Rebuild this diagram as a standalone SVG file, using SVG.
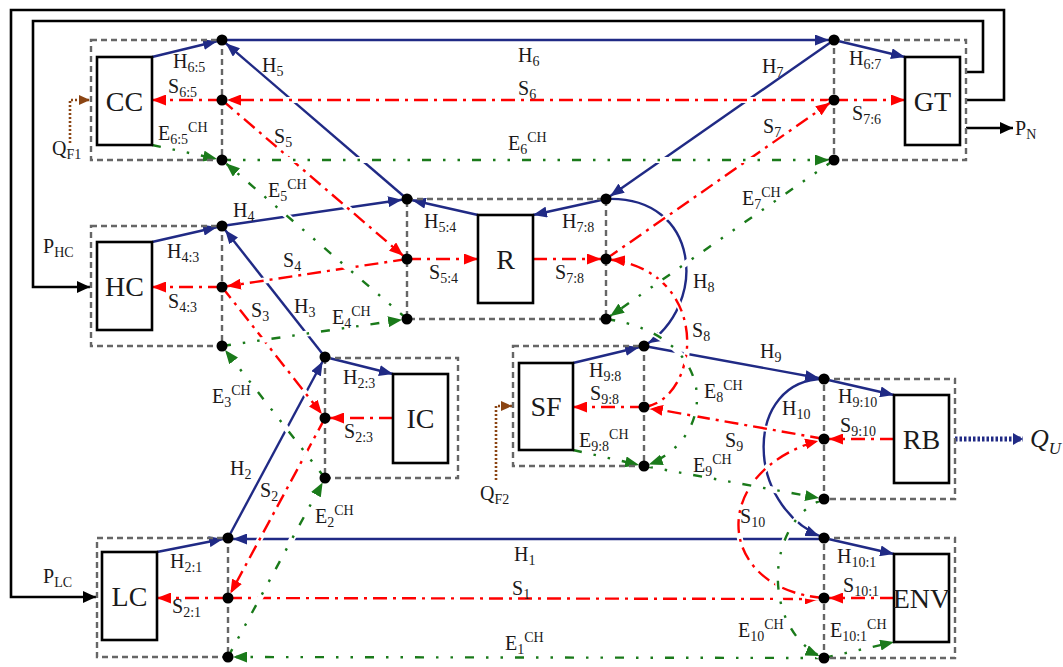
<svg xmlns="http://www.w3.org/2000/svg" width="1063" height="667" viewBox="0 0 1063 667">
<style>
.lbl{font-family:"Liberation Serif","Times New Roman",serif;font-size:20px;fill:#1a1a1a}
.sub{font-size:14px}
.big{font-family:"Liberation Serif","Times New Roman",serif;font-size:28px;fill:#1a1a1a;text-anchor:middle}
.box{fill:#fff;stroke:#000;stroke-width:2.6}
.zone{fill:none;stroke:#666;stroke-width:2.4;stroke-dasharray:6 4}
.dot{fill:#000}
.h{fill:none;stroke:#202a85;stroke-width:2.4}
.s{fill:none;stroke:#f00;stroke-width:2.4;stroke-dasharray:14 6 3 6}
.e{fill:none;stroke:#1a7a1a;stroke-width:2.4;stroke-dasharray:9 12 2.5 12 2.5 12}
.halo{fill:none;stroke:#fff;stroke-width:6}
.k{fill:none;stroke:#000;stroke-width:2.6}
.br{fill:none;stroke:#8b4513;stroke-width:2.6;stroke-dasharray:2 2}
.qu{fill:none;stroke:#202a85;stroke-width:5;stroke-dasharray:2.5 2}
</style>
<defs>
<marker id="hD" viewBox="0 0 14 11" refX="19" refY="5.5" markerWidth="14" markerHeight="11" orient="auto" markerUnits="userSpaceOnUse"><path d="M0,0 L14,5.5 L0,11 z" fill="#202a85"/></marker>
<marker id="hB" viewBox="0 0 14 11" refX="14" refY="5.5" markerWidth="14" markerHeight="11" orient="auto" markerUnits="userSpaceOnUse"><path d="M0,0 L14,5.5 L0,11 z" fill="#202a85"/></marker>
<marker id="sD" viewBox="0 0 14 11" refX="19" refY="5.5" markerWidth="14" markerHeight="11" orient="auto" markerUnits="userSpaceOnUse"><path d="M0,0 L14,5.5 L0,11 z" fill="#f00"/></marker>
<marker id="sB" viewBox="0 0 14 11" refX="14" refY="5.5" markerWidth="14" markerHeight="11" orient="auto" markerUnits="userSpaceOnUse"><path d="M0,0 L14,5.5 L0,11 z" fill="#f00"/></marker>
<marker id="eD" viewBox="0 0 14 11" refX="19" refY="5.5" markerWidth="14" markerHeight="11" orient="auto" markerUnits="userSpaceOnUse"><path d="M0,0 L14,5.5 L0,11 z" fill="#1a7a1a"/></marker>
<marker id="eB" viewBox="0 0 14 11" refX="14" refY="5.5" markerWidth="14" markerHeight="11" orient="auto" markerUnits="userSpaceOnUse"><path d="M0,0 L14,5.5 L0,11 z" fill="#1a7a1a"/></marker>
<marker id="kA" viewBox="0 0 13 12" refX="13" refY="6" markerWidth="13" markerHeight="12" orient="auto" markerUnits="userSpaceOnUse"><path d="M0,0 L13,6 L0,12 z" fill="#000"/></marker>
<marker id="bA" viewBox="0 0 11 10" refX="11" refY="5" markerWidth="11" markerHeight="10" orient="auto" markerUnits="userSpaceOnUse"><path d="M0,0 L11,5 L0,10 z" fill="#8b4513"/></marker>
<marker id="qA" viewBox="0 0 10 12" refX="10" refY="6" markerWidth="10" markerHeight="12" orient="auto" markerUnits="userSpaceOnUse"><path d="M0,0 L10,6 L0,12 z" fill="#202a85"/></marker>
</defs>

<g id="connectors">
  <!-- power / feedback lines -->
  <path class="k" d="M966,100 H1004 V10 H11 V597 H96" marker-end="url(#kA)"/>
  <path class="k" d="M966,72 H983 V21 H33 V287 H90" marker-end="url(#kA)"/>
  <path class="k" d="M966,128 H1013" marker-end="url(#kA)"/>
  <path class="br" d="M70,143 V100 H90" marker-end="url(#bA)"/>
  <path class="br" d="M496,480 V406 H512" marker-end="url(#bA)"/>
  <path class="qu" d="M955,439 H1023" marker-end="url(#qA)"/>

  <!-- H lines -->
  <path class="h" d="M152,57 L222,40" marker-end="url(#hD)"/>
  <path class="h" d="M407,199 L222,40" marker-end="url(#hD)"/>
  <path class="h" d="M222,40 L834,40" marker-end="url(#hD)"/>
  <path class="h" d="M834,40 L905,57" marker-end="url(#hB)"/>
  <path class="h" d="M834,40 L606,199" marker-end="url(#hD)"/>
  <path class="h" d="M606,199 L533,215" marker-end="url(#hB)"/>
  <path class="h" d="M478,215 L407,199" marker-end="url(#hD)"/>
  <path class="h" d="M152,242 L222,226" marker-end="url(#hD)"/>
  <path class="h" d="M222,226 L407,199" marker-end="url(#hD)"/>
  <path class="h" d="M325,357 L222,226" marker-end="url(#hD)"/>
  <path class="h" d="M228,538 L325,357" marker-end="url(#hD)"/>
  <path class="h" d="M325,357 L393,374" marker-end="url(#hB)"/>
  <path class="h" d="M157,552 L228,538" marker-end="url(#hD)"/>
  <path class="h" d="M824,539 L228,539" marker-end="url(#hD)"/>
  <path class="h" d="M824,538 L894,554" marker-end="url(#hB)"/>
  <path class="h" d="M824,379 C745,379 742,505 824,538" marker-end="url(#hD)"/>
  <path class="h" d="M644,346 L824,379" marker-end="url(#hD)"/>
  <path class="h" d="M824,379 L894,395" marker-end="url(#hB)"/>
  <path class="h" d="M573,363 L644,346" marker-end="url(#hD)"/>
  <path class="h" d="M606,199 C700,195 710,305 644,346" marker-end="url(#hD)"/>

  <!-- S lines -->
  <path class="s" d="M222,100 L152,100" marker-end="url(#sB)"/>
  <path class="halo" d="M834,100 L222,100"/>
  <path class="s" d="M834,100 L222,100" marker-end="url(#sD)"/>
  <path class="s" d="M834,100 L905,100" marker-end="url(#sB)"/>
  <path class="halo" d="M606,259 L834,100"/>
  <path class="s" d="M606,259 L834,100" marker-end="url(#sD)"/>
  <path class="halo" d="M222,100 L407,259"/>
  <path class="s" d="M222,100 L407,259" marker-end="url(#sD)"/>
  <path class="s" d="M407,259 L478,259" marker-end="url(#sB)"/>
  <path class="s" d="M533,259 L606,259" marker-end="url(#sD)"/>
  <path class="halo" d="M407,259 L222,287"/>
  <path class="s" d="M407,259 L222,287" marker-end="url(#sD)"/>
  <path class="s" d="M222,287 L152,287" marker-end="url(#sB)"/>
  <path class="halo" d="M222,287 L325,418"/>
  <path class="s" d="M222,287 L325,418" marker-end="url(#sD)"/>
  <path class="s" d="M393,418 L325,418" marker-end="url(#sD)"/>
  <path class="halo" d="M325,418 L228,598"/>
  <path class="s" d="M325,418 L228,598" marker-end="url(#sD)"/>
  <path class="s" d="M228,598 L157,598" marker-end="url(#sB)"/>
  <path class="halo" d="M228,598 L824,599"/>
  <path class="s" d="M228,598 L824,599" marker-end="url(#sD)"/>
  <path class="s" d="M894,598 L824,598" marker-end="url(#sD)"/>
  <path class="halo" d="M824,598 C715,590 705,470 824,439"/>
  <path class="s" d="M824,598 C715,590 705,470 824,439" marker-end="url(#sD)"/>
  <path class="s" d="M894,439 L824,439" marker-end="url(#sD)"/>
  <path class="halo" d="M824,439 L644,407"/>
  <path class="s" d="M824,439 L644,407" marker-end="url(#sD)"/>
  <path class="s" d="M644,407 L573,407" marker-end="url(#sB)"/>
  <path class="halo" d="M644,407 C700,400 715,270 606,259"/>
  <path class="s" d="M644,407 C700,400 715,270 606,259" marker-end="url(#sD)"/>

  <!-- E lines -->
  <path class="e" d="M152,145 L222,160" marker-end="url(#eD)"/>
  <path class="halo" d="M222,160 L834,160"/>
  <path class="e" d="M222,160 L834,160" marker-end="url(#eD)"/>
  <path class="halo" d="M834,160 L606,319"/>
  <path class="e" d="M834,160 L606,319" marker-end="url(#eD)"/>
  <path class="halo" d="M407,319 L222,160"/>
  <path class="e" d="M407,319 L222,160" marker-end="url(#eD)"/>
  <path class="halo" d="M222,346 L407,319"/>
  <path class="e" d="M222,346 L407,319" marker-end="url(#eD)"/>
  <path class="halo" d="M325,478 L222,346"/>
  <path class="e" d="M325,478 L222,346" marker-end="url(#eD)"/>
  <path class="halo" d="M228,657 L325,478"/>
  <path class="e" d="M228,657 L325,478" marker-end="url(#eD)"/>
  <path class="halo" d="M824,658 L228,657"/>
  <path class="e" d="M824,658 L228,657" marker-end="url(#eD)"/>
  <path class="e" d="M824,658 L894,642" marker-end="url(#eB)"/>
  <path class="halo" d="M824,499 C765,520 760,630 824,658"/>
  <path class="e" d="M824,499 C765,520 760,630 824,658" marker-end="url(#eD)"/>
  <path class="halo" d="M644,466 L824,499"/>
  <path class="e" d="M644,466 L824,499" marker-end="url(#eD)"/>
  <path class="e" d="M573,450 L644,466" marker-end="url(#eD)"/>
  <path class="halo" d="M606,319 C720,335 720,440 644,466"/>
  <path class="e" d="M606,319 C720,335 720,440 644,466" marker-end="url(#eD)"/>

  <!-- connector labels -->
  <g class="lbl">
    <text x="173" y="68">H<tspan class="sub" dy="4">6:5</tspan></text>
    <text x="168" y="93">S<tspan class="sub" dy="4">6:5</tspan></text>
    <text x="158" y="140">E<tspan class="sub" dy="4">6:5</tspan><tspan class="sub" dy="-12">CH</tspan></text>
    <text x="262" y="72">H<tspan class="sub" dy="4">5</tspan></text>
    <text x="274" y="143">S<tspan class="sub" dy="4">5</tspan></text>
    <text x="268" y="197">E<tspan class="sub" dy="4">5</tspan><tspan class="sub" dy="-12">CH</tspan></text>
    <text x="518" y="62">H<tspan class="sub" dy="4">6</tspan></text>
    <text x="518" y="95">S<tspan class="sub" dy="4">6</tspan></text>
    <text x="508" y="150">E<tspan class="sub" dy="4">6</tspan><tspan class="sub" dy="-12">CH</tspan></text>
    <text x="762" y="73">H<tspan class="sub" dy="4">7</tspan></text>
    <text x="763" y="133">S<tspan class="sub" dy="4">7</tspan></text>
    <text x="742" y="205">E<tspan class="sub" dy="4">7</tspan><tspan class="sub" dy="-12">CH</tspan></text>
    <text x="849" y="65">H<tspan class="sub" dy="4">6:7</tspan></text>
    <text x="852" y="120">S<tspan class="sub" dy="4">7:6</tspan></text>
    <text x="1015" y="135">P<tspan class="sub" dy="4">N</tspan></text>
    <text x="43" y="253">P<tspan class="sub" dy="4">HC</tspan></text>
    <text x="233" y="217">H<tspan class="sub" dy="4">4</tspan></text>
    <text x="167" y="258">H<tspan class="sub" dy="4">4:3</tspan></text>
    <text x="283" y="267">S<tspan class="sub" dy="4">4</tspan></text>
    <text x="168" y="308">S<tspan class="sub" dy="4">4:3</tspan></text>
    <text x="294" y="313">H<tspan class="sub" dy="4">3</tspan></text>
    <text x="251" y="317">S<tspan class="sub" dy="4">3</tspan></text>
    <text x="332" y="324">E<tspan class="sub" dy="4">4</tspan><tspan class="sub" dy="-12">CH</tspan></text>
    <text x="212" y="403">E<tspan class="sub" dy="4">3</tspan><tspan class="sub" dy="-12">CH</tspan></text>
    <text x="424" y="228">H<tspan class="sub" dy="4">5:4</tspan></text>
    <text x="562" y="228">H<tspan class="sub" dy="4">7:8</tspan></text>
    <text x="429" y="279">S<tspan class="sub" dy="4">5:4</tspan></text>
    <text x="555" y="279">S<tspan class="sub" dy="4">7:8</tspan></text>
    <text x="693" y="288">H<tspan class="sub" dy="4">8</tspan></text>
    <text x="692" y="337">S<tspan class="sub" dy="4">8</tspan></text>
    <text x="704" y="398">E<tspan class="sub" dy="4">8</tspan><tspan class="sub" dy="-12">CH</tspan></text>
    <text x="343" y="384">H<tspan class="sub" dy="4">2:3</tspan></text>
    <text x="344" y="438">S<tspan class="sub" dy="4">2:3</tspan></text>
    <text x="589" y="377">H<tspan class="sub" dy="4">9:8</tspan></text>
    <text x="590" y="400">S<tspan class="sub" dy="4">9:8</tspan></text>
    <text x="579" y="447">E<tspan class="sub" dy="4">9:8</tspan><tspan class="sub" dy="-12">CH</tspan></text>
    <text x="760" y="358">H<tspan class="sub" dy="4">9</tspan></text>
    <text x="838" y="403">H<tspan class="sub" dy="4">9:10</tspan></text>
    <text x="782" y="415">H<tspan class="sub" dy="4">10</tspan></text>
    <text x="840" y="432">S<tspan class="sub" dy="4">9:10</tspan></text>
    <text x="725" y="447">S<tspan class="sub" dy="4">9</tspan></text>
    <text x="693" y="472">E<tspan class="sub" dy="4">9</tspan><tspan class="sub" dy="-12">CH</tspan></text>
    <text x="1030" y="447" font-style="italic" font-size="26">Q<tspan font-size="17" dy="7">U</tspan></text>
    <text x="480" y="500">Q<tspan class="sub" dy="4">F2</tspan></text>
    <text x="52" y="155">Q<tspan class="sub" dy="4">F1</tspan></text>
    <text x="315" y="523">E<tspan class="sub" dy="4">2</tspan><tspan class="sub" dy="-12">CH</tspan></text>
    <text x="230" y="475">H<tspan class="sub" dy="4">2</tspan></text>
    <text x="260" y="497">S<tspan class="sub" dy="4">2</tspan></text>
    <text x="170" y="568">H<tspan class="sub" dy="4">2:1</tspan></text>
    <text x="172" y="613">S<tspan class="sub" dy="4">2:1</tspan></text>
    <text x="43" y="583">P<tspan class="sub" dy="4">LC</tspan></text>
    <text x="514" y="561">H<tspan class="sub" dy="4">1</tspan></text>
    <text x="512" y="595">S<tspan class="sub" dy="4">1</tspan></text>
    <text x="505" y="650">E<tspan class="sub" dy="4">1</tspan><tspan class="sub" dy="-12">CH</tspan></text>
    <text x="740" y="523">S<tspan class="sub" dy="4">10</tspan></text>
    <text x="837" y="563">H<tspan class="sub" dy="4">10:1</tspan></text>
    <text x="843" y="592">S<tspan class="sub" dy="4">10:1</tspan></text>
    <text x="738" y="637">E<tspan class="sub" dy="4">10</tspan><tspan class="sub" dy="-12">CH</tspan></text>
    <text x="830" y="637">E<tspan class="sub" dy="4">10:1</tspan><tspan class="sub" dy="-12">CH</tspan></text>
  </g>
</g>

<g id="node-CC">
  <rect class="zone" x="91" y="40" width="131" height="120"/>
  <rect class="box" x="97" y="57" width="55" height="88"/>
  <text class="big" x="124.5" y="111">CC</text>
  <circle class="dot" cx="222" cy="40" r="5.5"/><circle class="dot" cx="222" cy="100" r="5.5"/><circle class="dot" cx="222" cy="160" r="5.5"/>
</g>
<g id="node-GT">
  <rect class="zone" x="834" y="40" width="132" height="120"/>
  <rect class="box" x="905" y="57" width="55" height="88"/>
  <text class="big" x="932.5" y="111">GT</text>
  <circle class="dot" cx="834" cy="40" r="5.5"/><circle class="dot" cx="834" cy="100" r="5.5"/><circle class="dot" cx="834" cy="160" r="5.5"/>
</g>
<g id="node-HC">
  <rect class="zone" x="91" y="226" width="131" height="120"/>
  <rect class="box" x="97" y="242" width="55" height="88"/>
  <text class="big" x="124.5" y="296">HC</text>
  <circle class="dot" cx="222" cy="226" r="5.5"/><circle class="dot" cx="222" cy="287" r="5.5"/><circle class="dot" cx="222" cy="346" r="5.5"/>
</g>
<g id="node-R">
  <rect class="zone" x="407" y="199" width="199" height="120"/>
  <rect class="box" x="478" y="215" width="55" height="88"/>
  <text class="big" x="505.5" y="269">R</text>
  <circle class="dot" cx="407" cy="199" r="5.5"/><circle class="dot" cx="407" cy="259" r="5.5"/><circle class="dot" cx="407" cy="319" r="5.5"/>
  <circle class="dot" cx="606" cy="199" r="5.5"/><circle class="dot" cx="606" cy="259" r="5.5"/><circle class="dot" cx="606" cy="319" r="5.5"/>
</g>
<g id="node-IC">
  <rect class="zone" x="325" y="358" width="133" height="120"/>
  <rect class="box" x="393" y="374" width="55" height="89"/>
  <text class="big" x="420.5" y="428">IC</text>
  <circle class="dot" cx="325" cy="357" r="5.5"/><circle class="dot" cx="325" cy="418" r="5.5"/><circle class="dot" cx="325" cy="478" r="5.5"/>
</g>
<g id="node-SF">
  <rect class="zone" x="513" y="346" width="131" height="120"/>
  <rect class="box" x="519" y="363" width="54" height="87"/>
  <text class="big" x="546" y="416">SF</text>
  <circle class="dot" cx="644" cy="346" r="5.5"/><circle class="dot" cx="644" cy="407" r="5.5"/><circle class="dot" cx="644" cy="466" r="5.5"/>
</g>
<g id="node-RB">
  <rect class="zone" x="824" y="379" width="131" height="120"/>
  <rect class="box" x="894" y="395" width="55" height="88"/>
  <text class="big" x="921.5" y="449">RB</text>
  <circle class="dot" cx="824" cy="379" r="5.5"/><circle class="dot" cx="824" cy="439" r="5.5"/><circle class="dot" cx="824" cy="499" r="5.5"/>
</g>
<g id="node-ENV">
  <rect class="zone" x="824" y="538" width="131" height="120"/>
  <rect class="box" x="894" y="554" width="55" height="88"/>
  <text class="big" x="921.5" y="608">ENV</text>
  <circle class="dot" cx="824" cy="538" r="5.5"/><circle class="dot" cx="824" cy="598" r="5.5"/><circle class="dot" cx="824" cy="658" r="5.5"/>
</g>
<g id="node-LC">
  <rect class="zone" x="97" y="538" width="131" height="119"/>
  <rect class="box" x="102" y="552" width="55" height="88"/>
  <text class="big" x="129.5" y="606">LC</text>
  <circle class="dot" cx="228" cy="538" r="5.5"/><circle class="dot" cx="228" cy="598" r="5.5"/><circle class="dot" cx="228" cy="657" r="5.5"/>
</g>
</svg>
